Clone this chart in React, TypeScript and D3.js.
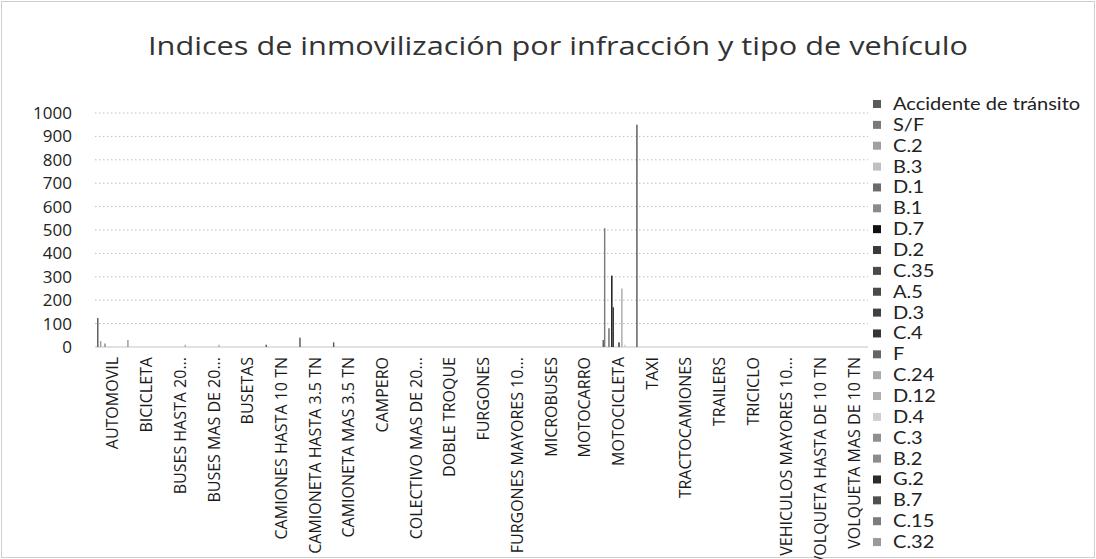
import React from 'react';
import * as d3 from 'd3';

const categories = [
  'AUTOMOVIL', 'BICICLETA', 'BUSES HASTA 20...', 'BUSES MAS DE 20...', 'BUSETAS',
  'CAMIONES HASTA 10 TN', 'CAMIONETA HASTA 3.5 TN', 'CAMIONETA MAS 3.5 TN', 'CAMPERO',
  'COLECTIVO MAS DE 20...', 'DOBLE TROQUE', 'FURGONES', 'FURGONES MAYORES 10...',
  'MICROBUSES', 'MOTOCARRO', 'MOTOCICLETA', 'TAXI', 'TRACTOCAMIONES', 'TRAILERS',
  'TRICICLO', 'VEHICULOS MAYORES 10...', 'VOLQUETA HASTA DE 10 TN', 'VOLQUETA MAS DE 10 TN',
];

const seriesNames = [
  'Accidente de tránsito', 'S/F', 'C.2', 'B.3', 'D.1', 'B.1', 'D.7', 'D.2', 'C.35', 'A.5',
  'D.3', 'C.4', 'F', 'C.24', 'D.12', 'D.4', 'C.3', 'B.2', 'G.2', 'B.7', 'C.15', 'C.32',
];

// scanned chart -> grey shades per series
const seriesColors = [
  '#5a5a5a', '#7a7a7a', '#a0a0a0', '#c0c0c0', '#6a6a6a', '#8a8a8a', '#111111', '#3a3a3a',
  '#4a4a4a', '#4a4a4a', '#404040', '#353535', '#666666', '#aaaaaa', '#b0b0b0', '#cfcfcf',
  '#909090', '#8c8c8c', '#2a2a2a', '#505050', '#7c7c7c', '#9a9a9a',
];

const yTicks = [0, 100, 200, 300, 400, 500, 600, 700, 800, 900, 1000];

// one array per series, one value per category (same order as categories)
const accidente = [124, 0, 0, 0, 0, 10, 40, 20, 0, 0, 0, 0, 0, 0, 0, 30, 950, 0, 0, 0, 0, 0, 0];
const sf = [0, 0, 0, 0, 0, 0, 0, 0, 0, 0, 0, 0, 0, 0, 0, 508, 0, 0, 0, 0, 0, 0, 0];
const c2 = [25, 0, 0, 0, 0, 0, 0, 0, 0, 0, 0, 0, 0, 0, 0, 0, 0, 0, 0, 0, 0, 0, 0];
const b3 = [0, 0, 0, 0, 0, 0, 0, 0, 0, 0, 0, 0, 0, 0, 0, 0, 0, 0, 0, 0, 0, 0, 0];
const d1 = [0, 0, 0, 0, 0, 0, 0, 0, 0, 0, 0, 0, 0, 0, 0, 80, 0, 0, 0, 0, 0, 0, 0];
const b1 = [15, 0, 0, 0, 0, 0, 0, 0, 0, 0, 0, 0, 0, 0, 0, 0, 0, 0, 0, 0, 0, 0, 0];
const d7 = [0, 0, 0, 0, 0, 0, 0, 0, 0, 0, 0, 0, 0, 0, 0, 305, 0, 0, 0, 0, 0, 0, 0];
const d2 = [0, 0, 0, 0, 0, 0, 0, 0, 0, 0, 0, 0, 0, 0, 0, 170, 0, 0, 0, 0, 0, 0, 0];
const c35 = [0, 0, 0, 0, 0, 0, 0, 0, 0, 0, 0, 0, 0, 0, 0, 0, 0, 0, 0, 0, 0, 0, 0];
const a5 = [0, 0, 0, 0, 0, 0, 0, 0, 0, 0, 0, 0, 0, 0, 0, 0, 0, 0, 0, 0, 0, 0, 0];
const d3s = [0, 0, 0, 0, 0, 0, 0, 0, 0, 0, 0, 0, 0, 0, 0, 0, 0, 0, 0, 0, 0, 0, 0];
const c4 = [0, 0, 0, 0, 0, 0, 0, 0, 0, 0, 0, 0, 0, 0, 0, 20, 0, 0, 0, 0, 0, 0, 0];
const f = [0, 0, 0, 0, 0, 0, 0, 0, 0, 0, 0, 0, 0, 0, 0, 0, 0, 0, 0, 0, 0, 0, 0];
const c24 = [0, 0, 0, 0, 0, 0, 0, 0, 0, 0, 0, 0, 0, 0, 0, 250, 0, 0, 0, 0, 0, 0, 0];
const d12 = [0, 0, 10, 10, 0, 0, 0, 0, 0, 0, 0, 0, 0, 0, 0, 0, 0, 0, 0, 0, 0, 0, 0];
const d4 = [0, 0, 0, 0, 0, 0, 0, 0, 0, 0, 0, 0, 0, 0, 0, 10, 0, 0, 0, 0, 0, 0, 0];
const c3 = [0, 0, 0, 0, 0, 0, 0, 0, 0, 0, 0, 0, 0, 0, 0, 0, 0, 0, 0, 0, 0, 0, 0];
const b2 = [0, 0, 0, 0, 0, 0, 0, 0, 0, 0, 0, 0, 0, 0, 0, 0, 0, 0, 0, 0, 0, 0, 0];
const g2 = [0, 0, 0, 0, 0, 0, 0, 0, 0, 0, 0, 0, 0, 0, 0, 0, 0, 0, 0, 0, 0, 0, 0];
const b7 = [0, 0, 0, 0, 0, 0, 0, 0, 0, 0, 0, 0, 0, 0, 0, 0, 0, 0, 0, 0, 0, 0, 0];
const c15 = [0, 0, 0, 0, 0, 0, 0, 0, 0, 0, 0, 0, 0, 0, 0, 0, 0, 0, 0, 0, 0, 0, 0];
const c32 = [30, 0, 0, 0, 0, 0, 0, 0, 0, 0, 0, 0, 0, 0, 0, 0, 0, 0, 0, 0, 0, 0, 0];

const seriesValues = [
  accidente, sf, c2, b3, d1, b1, d7, d2, c35, a5, d3s, c4, f, c24, d12, d4, c3, b2, g2, b7, c15, c32,
];

const W = 1096;
const H = 559;
const FONT = '"Open Sans", sans-serif';

export default function App() {
  const x = d3.scaleBand().domain(categories).range([96, 871]);
  // excel gap width 150%: bars take n/(n+1.5) of the band
  const inner = d3
    .scaleBand()
    .domain(seriesNames)
    .range([0, x.bandwidth()])
    .paddingOuter(0.75)
    .paddingInner(0);
  const y = d3.scaleLinear().domain([0, 1000]).range([347, 113]);

  const legendY = (i: number) => 104 + i * 20.86;

  return (
    <svg width={W} height={H} style={{ position: 'absolute', left: 0, top: 0, background: '#fff' }}>
      <rect x={1.5} y={1.5} width={W - 3} height={H - 3} fill="none" stroke="#cfcfcf" />

      <text x={558} y={55} textAnchor="middle" fontFamily={FONT} fontSize={25} fill="#333"
        textLength={820} lengthAdjust="spacingAndGlyphs">
        Indices de inmovilización por infracción y tipo de vehículo
      </text>

      {/* grid + y labels */}
      {yTicks.map(t => (
        <g key={t}>
          {t > 0 && (
            <line x1={95} x2={868} y1={y(t)} y2={y(t)} stroke="#bdbdbd" strokeWidth={1}
              strokeDasharray="1.5 2.5" />
          )}
          <text x={72} y={y(t)} dy="0.35em" textAnchor="end" fontFamily={FONT} fontSize={17} fill="#222">
            {t}
          </text>
        </g>
      ))}
      <line x1={95} x2={868} y1={y(0)} y2={y(0)} stroke="#c4c4c4" strokeWidth={1} />

      {/* bars */}
      {seriesValues.map((vals, si) => (
        <g key={seriesNames[si]} fill={seriesColors[si]}>
          {vals.map((v, ci) =>
            v > 0 ? (
              <rect key={ci}
                x={(x(categories[ci]) as number) + (inner(seriesNames[si]) as number)}
                width={inner.bandwidth()}
                y={y(v)}
                height={y(0) - y(v)} />
            ) : null
          )}
        </g>
      ))}

      {/* category labels */}
      {categories.map(c => (
        <text key={c} fontFamily={FONT} fontSize={16} fill="#1a1a1a" textAnchor="end" dy="0.35em"
          transform={`translate(${(x(c) as number) + x.bandwidth() / 2},357) rotate(-90)`}>
          {c}
        </text>
      ))}

      {/* legend */}
      {seriesNames.map((s, i) => (
        <g key={s}>
          <rect x={873} y={legendY(i) - 4} width={8} height={8} fill={seriesColors[i]} />
          <text dy="0.35em" fontFamily="Lato, sans-serif" fontSize={17} fill="#222"
            transform={`translate(893,${legendY(i)}) scale(1.18,1)`}>
            {s}
          </text>
        </g>
      ))}
    </svg>
  );
}
